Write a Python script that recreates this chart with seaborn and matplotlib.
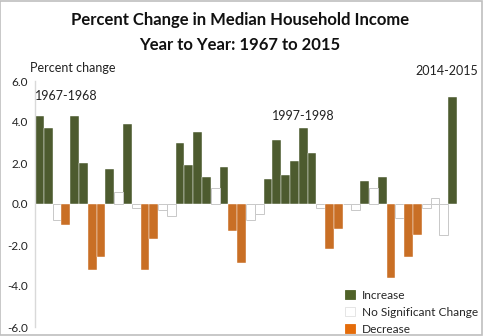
import matplotlib
matplotlib.use("Agg")
import matplotlib.pyplot as plt
import seaborn as sns
import pandas as pd
from matplotlib.patches import Patch, Rectangle

# ---- data ----
start_years = list(range(1967, 2015))
periods = [f"{y}-{y+1}" for y in start_years]
values = [4.3, 3.7, -0.8, -1.0, 4.3, 2.0, -3.2, -2.6, 1.7, 0.6,
          3.9, -0.2, -3.2, -1.7, -0.3, -0.6, 3.0, 1.9, 3.5, 1.3,
          0.8, 1.8, -1.3, -2.9, -0.8, -0.5, 1.2, 3.1, 1.4, 2.1,
          3.7, 2.5, -0.2, -2.2, -1.2, 0.0, -0.3, 1.1, 0.8, 1.3,
          -3.6, -0.7, -2.6, -1.5, -0.2, 0.3, -1.5, 5.2]
# I=Increase, N=No Significant Change, D=Decrease
status_codes = ["I", "I", "N", "D", "I", "I", "D", "D", "I", "N",
                "I", "N", "D", "D", "N", "N", "I", "I", "I", "I",
                "N", "I", "D", "D", "N", "N", "I", "I", "I", "I",
                "I", "I", "N", "D", "D", "N", "N", "I", "N", "I",
                "D", "N", "D", "D", "N", "N", "N", "I"]
status_names = {"I": "Increase", "N": "No Significant Change", "D": "Decrease"}
categories = ["Increase", "No Significant Change", "Decrease"]
colors = ["#4f6228", "#ffffff", "#e46c0a"]
yticks = [6.0, 4.0, 2.0, 0.0, -2.0, -4.0, -6.0]
annotations = {"1967-1968": (0, 5.0), "1997-1998": (30, 4.0), "2014-2015": (47, 6.2)}

df = pd.DataFrame({"period": periods, "value": values,
                   "status": [status_names[s] for s in status_codes]})

sns.set_style("white")
plt.rcParams["font.family"] = ["Lato", "DejaVu Sans"]

fig = plt.figure(figsize=(4.88, 3.36), dpi=100)
ax = fig.add_axes([35/488, 9/336, 422/488, 246/336])

sns.barplot(data=df, x="period", y="value", hue="status", hue_order=categories,
            palette=dict(zip(categories, colors)), dodge=False, width=1.0,
            order=periods, ax=ax, legend=False)

for p in ax.patches:
    fc = p.get_facecolor()
    if fc[0] > 0.95 and fc[1] > 0.95 and fc[2] > 0.95:
        p.set_edgecolor("#c8c8c8")
        p.set_linewidth(0.7)
    else:
        p.set_edgecolor("#ffffff")
        p.set_linewidth(0.3)

ax.set_xlim(-0.5, len(periods) - 0.5)
ax.set_ylim(-6.0, 6.0)
ax.set_yticks(yticks)
ax.set_yticklabels([f"{t:.1f}" for t in yticks], fontsize=8.5, color="#222222")
ax.tick_params(axis="y", length=0, pad=5)
ax.set_xticks([])
ax.set_xlabel("")
ax.set_ylabel("")
for s in ["top", "right", "bottom"]:
    ax.spines[s].set_visible(False)
ax.spines["left"].set_color("#d9d9d9")
ax.spines["left"].set_linewidth(1.0)

for label, (xi, yv) in annotations.items():
    if xi == 0:
        ax.text(xi - 0.45, yv, label, ha="left", va="bottom", fontsize=9,
                color="#222222", clip_on=False)
    elif xi == len(periods) - 1:
        ax.text(xi + 2.9, yv, label, ha="right", va="bottom", fontsize=9,
                color="#222222", clip_on=False)
    else:
        ax.text(xi, yv, label, ha="center", va="bottom", fontsize=9,
                color="#222222", clip_on=False)

fig.text(240/488, 1 - 20/336, "Percent Change in Median Household Income",
         ha="center", va="center", fontsize=12, fontweight="bold", color="#111111")
fig.text(240/488, 1 - 45/336, "Year to Year: 1967 to 2015",
         ha="center", va="center", fontsize=12, fontweight="bold", color="#111111")
fig.text(30/488, 1 - 68/336, "Percent change", ha="left", va="center",
         fontsize=9, color="#222222")

handles = [Patch(facecolor=c, edgecolor=("#e0e0e0" if c == "#ffffff" else c),
                 linewidth=0.6) for c in colors]
leg = fig.legend(handles, categories, loc="lower left",
                 bbox_to_anchor=(343/488, -1/336), frameon=False, fontsize=8.6,
                 handlelength=0.8, handleheight=0.8, handletextpad=0.6,
                 labelspacing=0.5, borderaxespad=0, borderpad=0.2)

fig.patches.append(Rectangle((0.001, 0.004), 0.987, 0.993, transform=fig.transFigure,
                             fill=False, edgecolor="#bfbfbf", linewidth=1.2))

fig.savefig("out.png", dpi=100)
